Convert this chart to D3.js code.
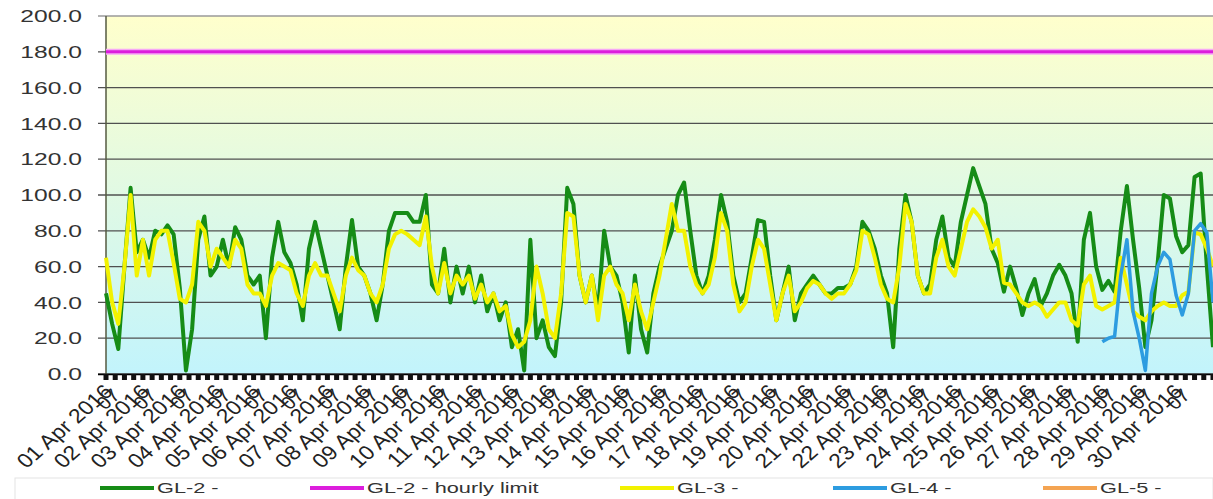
<!DOCTYPE html>
<html>
<head>
<meta charset="utf-8">
<script src="https://cdn.jsdelivr.net/npm/d3@7"></script>
<style>
body{margin:0;background:#fff}
text{font-family:"Liberation Sans",Arial,sans-serif}
</style>
</head>
<body>
<div id="chart"></div>
<script>

// day labels on the x axis
const dayLabels = ["01 Apr 2016","02 Apr 2016","03 Apr 2016","04 Apr 2016","05 Apr 2016","06 Apr 2016",
"07 Apr 2016","08 Apr 2016","09 Apr 2016","10 Apr 2016","11 Apr 2016","12 Apr 2016","13 Apr 2016",
"14 Apr 2016","15 Apr 2016","16 Apr 2016","17 Apr 2016","18 Apr 2016","19 Apr 2016","20 Apr 2016",
"21 Apr 2016","22 Apr 2016","23 Apr 2016","24 Apr 2016","25 Apr 2016","26 Apr 2016","27 Apr 2016",
"28 Apr 2016","29 Apr 2016","30 Apr 2016"]

const yTicks = [0,20,40,60,80,100,120,140,160,180,200]

// readings every 4 hours, from 01 Apr 00:00
const stepHours = 4

const gl2 = [
45,28,14,60,104,68,
75,65,80,78,83,78,
48,2,25,75,88,55,
60,75,60,82,75,55,
50,55,20,65,85,68,
62,50,30,70,85,70,
55,40,25,60,86,60,
55,45,30,50,80,90,
90,90,85,85,100,50,
45,70,40,60,45,60,
40,55,35,45,30,40,
15,25,2,75,20,30,
15,10,40,104,95,55,
40,55,35,80,60,55,
40,12,55,25,12,45,
60,70,80,100,107,80,
55,45,55,75,100,85,
55,40,45,65,86,85,
55,30,45,60,30,45,
50,55,50,45,45,48,
48,50,60,85,80,70,
55,45,15,70,100,85,
55,45,50,75,88,65,
60,85,100,115,105,95,
70,62,46,60,48,33,
45,53,38,45,55,61,
55,45,18,75,90,60,
47,52,46,80,105,75,
48,15,30,62,100,98,
77,68,72,110,112,60,
15]

const gl3 = [
65,40,28,60,100,55,
75,55,75,80,80,62,
42,40,50,85,80,60,
70,65,60,75,70,50,
45,45,38,55,62,60,
58,45,38,55,62,55,
55,45,35,55,65,58,
55,45,40,50,70,78,
80,78,75,72,88,60,
45,62,45,55,50,55,
42,50,40,45,35,38,
22,15,18,30,60,45,
25,20,45,90,88,55,
40,55,30,55,60,50,
45,30,50,35,25,40,
55,75,95,80,80,60,
50,45,50,65,90,80,
50,35,40,60,75,70,
50,30,45,55,35,40,
48,52,50,45,42,45,
45,50,58,80,78,65,
50,42,40,60,95,85,
55,45,45,65,75,60,
55,70,85,92,88,82,
70,75,51,50,45,40,
38,40,38,32,36,40,
40,30,27,50,55,38,
36,38,40,65,50,35,
32,30,35,38,40,38,
38,44,46,79,78,70,
60]

// GL-4 starts on 28 Apr 00:00
const gl4Start = 648
const gl4 = [
18,20,21,55,75,35,
20,2,45,60,68,64,
44,33,45,80,84,79,
40]

const gl5 = []

const hourlyLimit = 180

const seriesNames = ["GL-2 -","GL-2 - hourly limit","GL-3 -","GL-4 -","GL-5 -"]
const seriesColors = ["#168c16","#dc1edc","#f2f200","#2d9ce0","#f4a452"]

const width = 1213
const height = 499
const plotLeft = 106, plotRight = 1213, plotTop = 16, plotBottom = 374
const stretch = 1.45

const svg = d3.select("#chart").append("svg")
.attr("width",width)
.attr("height",height)

const x = d3.scaleLinear().domain([0,720]).range([plotLeft,plotRight])
const y = d3.scaleLinear().domain([0,200]).range([plotBottom,plotTop])

const grad = svg.append("defs").append("linearGradient")
.attr("id","bg").attr("x1",0).attr("y1",0).attr("x2",0).attr("y2",1)
grad.append("stop").attr("offset","0%").attr("stop-color","#ffffcc")
grad.append("stop").attr("offset","100%").attr("stop-color","#c2f4fc")

svg.append("rect")
.attr("x",plotLeft).attr("y",plotTop)
.attr("width",plotRight-plotLeft).attr("height",plotBottom-plotTop)
.attr("fill","url(#bg)")

// grid lines
svg.selectAll(".grid")
.data(yTicks)
.enter()
.append("line")
.attr("x1",plotLeft-8)
.attr("x2",plotRight)
.attr("y1",d=>y(d))
.attr("y2",d=>y(d))
.attr("stroke",d=>d==200?"#9a9a9a":"#505050")
.attr("stroke-width",1.3)

svg.append("line")
.attr("x1",plotLeft).attr("x2",plotLeft)
.attr("y1",plotTop).attr("y2",plotBottom)
.attr("stroke","#555a40").attr("stroke-width",1.5)

svg.selectAll(".ylab")
.data(yTicks)
.enter()
.append("text")
.attr("transform",d=>`translate(82,${y(d)}) scale(${stretch},1)`)
.attr("dy","0.36em")
.attr("text-anchor","end")
.attr("font-size","17px")
.attr("fill","#333")
.text(d=>d.toFixed(1))

// x axis: base line and square tick marks every 6 hours
svg.append("line")
.attr("x1",plotLeft-8).attr("x2",plotRight)
.attr("y1",plotBottom+0.5).attr("y2",plotBottom+0.5)
.attr("stroke","#000").attr("stroke-width",1.5)

svg.selectAll(".xtick")
.data(d3.range(0,721,6))
.enter()
.append("rect")
.attr("x",d=>x(d)-2.5)
.attr("y",plotBottom)
.attr("width",5)
.attr("height",6)
.attr("fill","#111")

const xl = svg.selectAll(".xlab")
.data(dayLabels)
.enter()
.append("g")
.attr("transform",(d,i)=>`translate(${x(i*24)+8},${plotBottom+19}) scale(1.15,1) rotate(-45)`)

xl.append("text")
.attr("text-anchor","end")
.attr("font-size","20px")
.attr("fill","#222")
.text(d=>d)

xl.append("text")
.attr("x",2)
.attr("y",7)
.attr("text-anchor","end")
.attr("font-size","18px")
.attr("fill","#222")
.text("07")

// series
function pts(values,start){
return values.map((v,i)=>({h:start+i*stepHours,v:v}))
}

const line = d3.line()
.x(d=>x(d.h))
.y(d=>y(d.v))

const plot = svg.append("g")

plot.append("path")
.datum(pts(gl2,0))
.attr("d",line)
.attr("fill","none")
.attr("stroke",seriesColors[0])
.attr("stroke-width",4)
.attr("stroke-linejoin","round")

plot.append("path")
.datum([{h:0,v:hourlyLimit},{h:720,v:hourlyLimit}])
.attr("d",line)
.attr("fill","none")
.attr("stroke","#f6a8f6")
.attr("stroke-width",6)

plot.append("path")
.datum([{h:0,v:hourlyLimit},{h:720,v:hourlyLimit}])
.attr("d",line)
.attr("fill","none")
.attr("stroke",seriesColors[1])
.attr("stroke-width",3)

plot.append("path")
.datum(pts(gl3,0))
.attr("d",line)
.attr("fill","none")
.attr("stroke",seriesColors[2])
.attr("stroke-width",4)
.attr("stroke-linejoin","round")

plot.append("path")
.datum(pts(gl4,gl4Start))
.attr("d",line)
.attr("fill","none")
.attr("stroke",seriesColors[3])
.attr("stroke-width",3.5)
.attr("stroke-linejoin","round")

plot.append("path")
.datum(pts(gl5,0))
.attr("d",line)
.attr("fill","none")
.attr("stroke",seriesColors[4])
.attr("stroke-width",3.5)

// legend
const legendX = [100,310,620,833,1043]

svg.append("rect")
.attr("x",15).attr("y",478)
.attr("width",1198).attr("height",24)
.attr("fill","#fff")
.attr("stroke","#e4e4e4")

const lg = svg.selectAll(".leg")
.data(seriesNames)
.enter()
.append("g")
.attr("transform",(d,i)=>`translate(${legendX[i]},488)`)

lg.append("line")
.attr("x1",0).attr("x2",54)
.attr("stroke",(d,i)=>seriesColors[i])
.attr("stroke-width",4)

lg.append("text")
.attr("transform",`translate(57,0) scale(${stretch},1)`)
.attr("dy","0.36em")
.attr("font-size","15px")
.attr("fill","#333")
.text(d=>d)

</script>
</body>
</html>
